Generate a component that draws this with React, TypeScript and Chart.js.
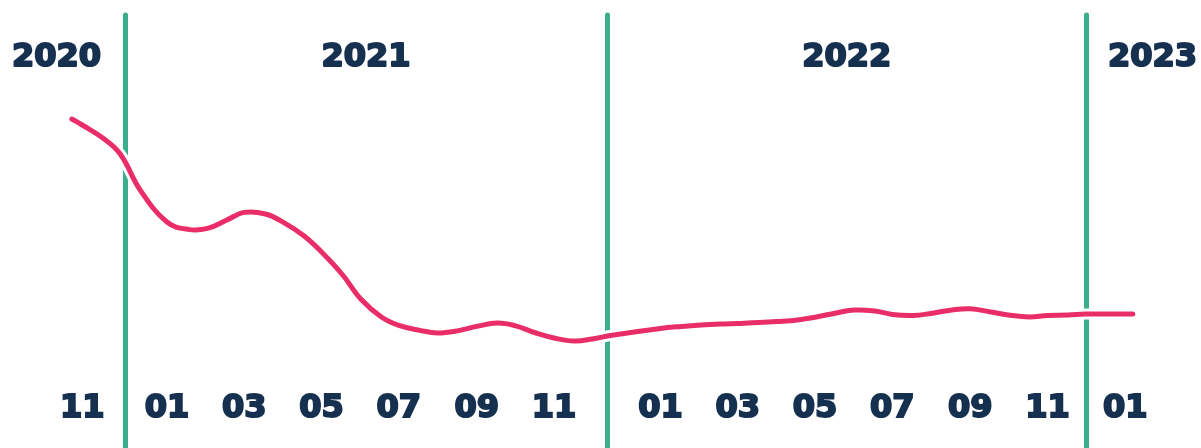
import React, { useEffect, useRef } from "react";
import { Chart, registerables } from "chart.js";

Chart.register(...registerables);

// ---- data ----
const DATES: string[] = [
  "2020-11-07", "2020-11-15", "2020-12-01", "2020-12-15", "2020-12-31",
  "2021-01-15", "2021-02-01", "2021-02-15", "2021-03-01", "2021-03-15",
  "2021-04-01", "2021-04-15", "2021-05-01", "2021-05-15", "2021-06-01",
  "2021-06-15", "2021-07-01", "2021-07-15", "2021-08-01", "2021-08-15",
  "2021-09-01", "2021-09-15", "2021-10-01", "2021-10-15", "2021-11-01",
  "2021-11-15", "2021-12-01", "2021-12-15", "2021-12-31",
  "2022-01-15", "2022-02-01", "2022-02-15", "2022-03-01", "2022-03-15",
  "2022-04-01", "2022-04-15", "2022-05-01", "2022-05-15", "2022-06-01",
  "2022-06-15", "2022-07-01", "2022-07-15", "2022-08-01", "2022-08-15",
  "2022-09-01", "2022-09-15", "2022-10-01", "2022-10-15", "2022-11-01",
  "2022-11-15", "2022-12-01", "2022-12-15", "2022-12-31",
  "2023-01-15", "2023-01-21",
];

const VALUES: number[] = [
  140.5, 137.5, 131, 123, 105,
  89, 85.3, 85.8, 90, 93.8,
  93, 88.8, 82, 74, 62.5,
  50.5, 41.5, 37.3, 34.8, 33.5,
  34.7, 36.8, 38.5, 37.2, 33.5,
  31, 29.5, 30.5, 32.4,
  35.8, 36.8, 37.5, 38, 38.3,
  38.7, 39.2, 40, 41.4, 43.5,
  45, 44.5, 42.8, 42.3, 43.3,
  45, 45.6, 44, 42.5, 41.5,
  42.3, 42.5, 43, 43,
  43, 43,
];

const TICK_MONTHS: string[] = [
  "2020-11",
  "2021-01", "2021-03", "2021-05", "2021-07", "2021-09", "2021-11",
  "2022-01", "2022-03", "2022-05", "2022-07", "2022-09", "2022-11",
  "2023-01",
];

const YEARS: number[] = [2020, 2021, 2022, 2023];

// ---- layout / style ----
const YEAR_OFFSET: Record<number, number> = { 2020: 0, 2021: 0.21, 2022: 0.98, 2023: 1.01 };
const X_MIN = -1.66;
const X_MAX = 29.42;
const Y_MIN = 6.1;
const Y_MAX = 200;
const NAVY = "#16304f";
const GREEN = "#3aae8b";
const PINK = "#e92d69";
const FONT_FAMILY = "'DejaVu Sans', sans-serif";
const FONT_SIZE = 32;
const FONT_WEIGHT = "bold";
const TEXT_STROKE = 2;

function axisPos(y: number, m: number, d: number): number {
  const daysInMonth = new Date(y, m, 0).getDate();
  return (y - 2020) * 12 + (m - 11) + (d - 1) / daysInMonth + (YEAR_OFFSET[y] ?? 0);
}
function dateToPos(s: string): number {
  const [y, m, d] = s.split("-").map(Number);
  return axisPos(y, m, d);
}
function tickPos(s: string): number {
  const [y, m] = s.split("-").map(Number);
  return axisPos(y, m, 15);
}

const TICK_VALUES = TICK_MONTHS.map(tickPos);
const TICK_LABELS: Record<string, string> = {};
TICK_MONTHS.forEach((s, i) => (TICK_LABELS[TICK_VALUES[i].toFixed(4)] = s.split("-")[1]));

// year boundaries: halfway between the last tick of one year and first tick of the next
function boundaries(): number[] {
  const res: number[] = [];
  for (let i = 1; i < TICK_MONTHS.length; i++) {
    const y0 = Number(TICK_MONTHS[i - 1].slice(0, 4));
    const y1 = Number(TICK_MONTHS[i].slice(0, 4));
    if (y1 !== y0) res.push((TICK_VALUES[i - 1] + TICK_VALUES[i]) / 2);
  }
  return res;
}
const BOUNDS = boundaries();

const yearPlugin = {
  id: "yearDecor",
  beforeDatasetsDraw(chart: any) {
    const { ctx } = chart;
    const xs = chart.scales.x;
    ctx.save();
    ctx.strokeStyle = GREEN;
    ctx.lineWidth = 5;
    ctx.lineCap = "round";
    BOUNDS.forEach((b) => {
      const px = Math.round(xs.getPixelForValue(b)) + 0.5;
      ctx.beginPath();
      ctx.moveTo(px, 15);
      ctx.lineTo(px, chart.height + 10);
      ctx.stroke();
    });
    ctx.restore();
  },
  afterDraw(chart: any) {
    const { ctx } = chart;
    const xs = chart.scales.x;
    const W = chart.width;
    const margin = 11;
    ctx.save();
    ctx.fillStyle = NAVY;
    ctx.strokeStyle = NAVY;
    ctx.lineWidth = TEXT_STROKE;
    ctx.lineJoin = "round";
    ctx.font = `${FONT_WEIGHT} ${FONT_SIZE}px ${FONT_FAMILY}`;
    ctx.textBaseline = "middle";
    ctx.textAlign = "center";
    YEARS.forEach((yr, i) => {
      const left = i === 0 ? -Infinity : xs.getPixelForValue(BOUNDS[i - 1]);
      const right = i === YEARS.length - 1 ? Infinity : xs.getPixelForValue(BOUNDS[i]);
      const txt = String(yr);
      const w = ctx.measureText(txt).width + TEXT_STROKE;
      let cx: number;
      if (isFinite(left) && isFinite(right)) cx = (left + right) / 2;
      else if (!isFinite(left)) cx = margin + w / 2;
      else cx = W - 3 - w / 2;
      ctx.strokeText(txt, cx, 58);
      ctx.fillText(txt, cx, 58);
    });
    ctx.restore();
  },
};

export default function App() {
  const ref = useRef<HTMLCanvasElement>(null);
  useEffect(() => {
    document.body.style.margin = "0";
    const points = DATES.map((d, i) => ({ x: dateToPos(d), y: VALUES[i] }));
    const chart = new Chart(ref.current!, {
      type: "line",
      data: {
        datasets: [
          {
            data: points,
            borderColor: PINK,
            borderWidth: 5,
            pointRadius: 0,
            tension: 0.4,
            borderCapStyle: "round",
            borderJoinStyle: "round",
            order: 0,
          },
          {
            data: points,
            borderColor: "#ffffff",
            borderWidth: 11,
            pointRadius: 0,
            tension: 0.4,
            borderCapStyle: "round",
            borderJoinStyle: "round",
            order: 1,
          },
        ],
      },
      options: {
        animation: false,
        responsive: false,
        layout: { autoPadding: false, padding: { left: 0, right: 0, top: 0, bottom: 17.8 } },
        plugins: { legend: { display: false }, tooltip: { enabled: false } },
        scales: {
          x: {
            type: "linear",
            min: X_MIN,
            max: X_MAX,
            grid: { display: false, drawTicks: false },
            border: { display: false },
            afterBuildTicks: (scale: any) => {
              scale.ticks = TICK_VALUES.map((v) => ({ value: v }));
            },
            ticks: {
              autoSkip: false,
              maxRotation: 0,
              padding: 2,
              color: NAVY,
              textStrokeColor: NAVY,
              textStrokeWidth: TEXT_STROKE,
              font: { family: FONT_FAMILY, size: FONT_SIZE, weight: FONT_WEIGHT, lineHeight: 1.2 },
              callback: (v: any) => TICK_LABELS[Number(v).toFixed(4)] ?? "",
            },
          },
          y: { display: false, min: Y_MIN, max: Y_MAX },
        },
      },
      plugins: [yearPlugin],
    } as any);
    return () => chart.destroy();
  }, []);
  return (
    <div style={{ width: 1201, height: 448 }}>
      <canvas ref={ref} width={1201} height={448} style={{ display: "block" }} />
    </div>
  );
}
